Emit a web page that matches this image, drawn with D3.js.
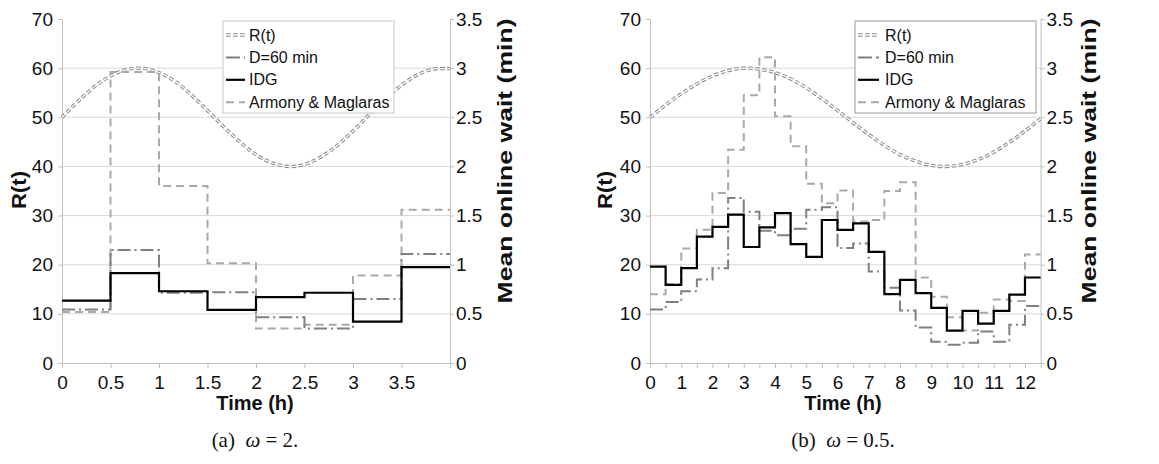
<!DOCTYPE html>
<html>
<head>
<meta charset="utf-8">
<script src="https://cdn.jsdelivr.net/npm/d3@7"></script>
<style>
  body { margin: 0; background: #fff; }
  svg { display: block; }
  text { font-family: "Liberation Sans", Arial, sans-serif; fill: #111; }
</style>
</head>
<body>
<svg id="chart" width="1159" height="464"></svg>
<script>
// ---- panel (a): omega = 2 ----
// start of each half-hour step (h); mean online wait in minutes
const stepTimesA = [0, 0.5, 1, 1.5, 2, 2.5, 3, 3.5];
const idgA    = [0.635, 0.915, 0.73, 0.54, 0.67, 0.715, 0.42, 0.975];
const d60A    = [0.545, 1.15, 0.715, 0.72, 0.465, 0.35, 0.65, 1.11];
const armonyA = [0.52, 2.96, 1.80, 1.015, 0.35, 0.39, 0.89, 1.56];
// arrival rate R(t)
const rTimesA  = [0, 0.2, 0.4, 0.6, 0.8, 1, 1.2, 1.4, 1.6, 1.8, 2, 2.2, 2.4, 2.6, 2.8, 3, 3.2, 3.4, 3.6, 3.8, 4];
const rValuesA = [50, 53.9, 57.2, 59.3, 60, 59.1, 56.8, 53.3, 49.4, 45.6, 42.4, 40.5, 40, 41.2, 43.7, 47.2, 51.2, 54.9, 57.9, 59.7, 59.9];
const xLabelsA = [0, 0.5, 1, 1.5, 2, 2.5, 3, 3.5];

// ---- panel (b): omega = 0.5 ----
const stepTimesB = [0, 0.5, 1, 1.5, 2, 2.5, 3, 3.5, 4, 4.5, 5, 5.5, 6, 6.5, 7, 7.5, 8, 8.5, 9, 9.5, 10, 10.5, 11, 11.5, 12];
const idgB    = [0.98, 0.795, 0.965, 1.285, 1.385, 1.51, 1.18, 1.38, 1.525, 1.21, 1.08, 1.455, 1.355, 1.42, 1.13,
                 0.70, 0.845, 0.71, 0.56, 0.33, 0.53, 0.40, 0.53, 0.695, 0.87];
const d60B    = [0.545, 0.62, 0.73, 0.85, 0.965, 1.68, 1.54, 1.345, 1.30, 1.365, 1.56, 1.585, 1.17, 1.215, 0.93,
                 0.765, 0.535, 0.36, 0.215, 0.185, 0.205, 0.32, 0.215, 0.39, 0.58];
const armonyB = [0.70, 0.805, 1.165, 1.355, 1.73, 2.17, 2.725, 3.11, 2.51, 2.205, 1.825, 1.625, 1.755, 1.44, 1.455,
                 1.75, 1.84, 0.87, 0.675, 0.465, 0.33, 0.51, 0.645, 0.63, 1.105];
const rTimesB  = [0, 0.5, 1, 1.5, 2, 2.5, 3, 3.5, 4, 4.5, 5, 5.5, 6, 6.5, 7, 7.5, 8, 8.5, 9, 9.5, 10, 10.5, 11, 11.5, 12, 12.5];
const rValuesB = [50, 52.5, 54.8, 56.8, 58.4, 59.5, 60, 59.8, 59.1, 57.8, 56, 53.8, 51.4, 48.9, 46.5, 44.3, 42.4, 41.1,
                  40.2, 40, 40.4, 41.4, 42.9, 44.9, 47.2, 49.7];
const xLabelsB = [0, 1, 2, 3, 4, 5, 6, 7, 8, 9, 10, 11, 12];

// shared axes
const yLeftTicks  = [0, 10, 20, 30, 40, 50, 60, 70];
const yRightTicks = [0, 0.5, 1, 1.5, 2, 2.5, 3, 3.5];
const legendLabels = ["R(t)", "D=60 min", "IDG", "Armony & Maglaras"];

const svg = d3.select("#chart");
const plotTop = 19, plotBottom = 363;

const styles = {
  d60:    { stroke: "#7f7f7f", width: 2, dash: "13,4,2,4" },
  idg:    { stroke: "#000", width: 2.2, dash: null },
  armony: { stroke: "#a9a9a9", width: 2, dash: "8,5" }
};

function drawPanel(p) {
  const g = svg.append("g");
  const x = d3.scaleLinear().domain([0, p.tEnd]).range([p.left, p.right]);
  const yL = d3.scaleLinear().domain([0, 70]).range([plotBottom, plotTop]);
  const yR = d3.scaleLinear().domain([0, 3.5]).range([plotBottom, plotTop]);

  // horizontal grid
  g.selectAll("line.grid")
    .data(yLeftTicks.filter(d => d > 0 && d < 70))
    .join("line")
    .attr("x1", p.left).attr("x2", p.right)
    .attr("y1", d => yL(d)).attr("y2", d => yL(d))
    .attr("stroke", "#d9d9d9").attr("stroke-width", 1);

  // axes
  const left = g.append("g").attr("transform", `translate(${p.left},0)`)
    .call(d3.axisLeft(yL).tickValues(yLeftTicks).tickSize(4).tickSizeOuter(0).tickPadding(5));
  const right = g.append("g").attr("transform", `translate(${p.right},0)`)
    .call(d3.axisRight(yR).tickValues(yRightTicks).tickSize(4).tickSizeOuter(0).tickPadding(2)
      .tickFormat(d3.format("")));
  const marks = d3.range(0, p.tEnd + 0.001, 0.5);
  const bottomAx = g.append("g").attr("transform", `translate(0,${plotBottom})`)
    .call(d3.axisBottom(x).tickValues(marks).tickSize(5).tickSizeOuter(0).tickPadding(8)
      .tickFormat(d => p.xLabels.includes(d) ? d3.format("")(d) : ""));
  [left, right, bottomAx].forEach(a => {
    a.select(".domain").attr("stroke", "#bfbfbf");
    a.selectAll(".tick line").attr("stroke", "#bfbfbf");
    a.selectAll(".tick text").attr("font-size", 19).attr("fill", "#111")
      .attr("font-family", '"Liberation Sans", Arial, sans-serif');
  });

  // R(t) curve, drawn as a hollow dashed line
  const rPts = p.rTimes.map((t, i) => [t, p.rValues[i]]);
  const rLine = d3.line().x(d => x(d[0])).y(d => yL(d[1])).curve(d3.curveCatmullRom);
  g.append("path").attr("d", rLine(rPts)).attr("fill", "none")
    .attr("stroke", "#8a8a8a").attr("stroke-width", 3.4).attr("stroke-dasharray", "4.5,2.5");
  g.append("path").attr("d", rLine(rPts)).attr("fill", "none")
    .attr("stroke", "#fff").attr("stroke-width", 1.3).attr("stroke-dasharray", "4.5,2.5");

  // step series on the right axis
  const step = d3.line().x(d => x(d[0])).y(d => yR(d[1])).curve(d3.curveStepAfter);
  [["armony", p.armony], ["d60", p.d60], ["idg", p.idg]].forEach(([key, vals]) => {
    const pts = p.times.map((t, i) => [t, vals[i]]).concat([[p.tEnd, vals[vals.length - 1]]]);
    const s = styles[key];
    g.append("path").attr("d", step(pts)).attr("fill", "none")
      .attr("stroke", s.stroke).attr("stroke-width", s.width)
      .attr("stroke-dasharray", s.dash);
  });

  // legend
  const lg = g.append("g");
  lg.append("rect").attr("x", p.legX).attr("y", 21).attr("width", p.legW).attr("height", 92)
    .attr("fill", "#fff").attr("stroke", p.legStroke).attr("stroke-width", 1);
  legendLabels.forEach((lab, i) => {
    const yy = 35 + i * 22.4;
    const x1 = p.legX + 3, x2 = p.legX + 3 + p.sampleW;
    if (i === 0) {
      lg.append("line").attr("x1", x1).attr("x2", x2).attr("y1", yy).attr("y2", yy)
        .attr("stroke", "#8a8a8a").attr("stroke-width", 3.4).attr("stroke-dasharray", "4.5,2.5");
      lg.append("line").attr("x1", x1).attr("x2", x2).attr("y1", yy).attr("y2", yy)
        .attr("stroke", "#fff").attr("stroke-width", 1.3).attr("stroke-dasharray", "4.5,2.5");
    } else {
      const s = styles[["", "d60", "idg", "armony"][i]];
      lg.append("line").attr("x1", x1).attr("x2", x2).attr("y1", yy).attr("y2", yy)
        .attr("stroke", s.stroke).attr("stroke-width", s.width)
        .attr("stroke-dasharray", i === 1 ? "14,4" : s.dash);
    }
    lg.append("text").attr("x", p.legX + p.textOff).attr("y", yy).attr("dy", "0.35em")
      .attr("font-size", 16).text(lab);
  });

  // axis titles
  g.append("text").attr("transform", `translate(${p.left - p.leftTitleOff},190) rotate(-90)`)
    .attr("text-anchor", "middle").attr("font-weight", "bold").attr("font-size", 21)
    .attr("textLength", 38).attr("lengthAdjust", "spacingAndGlyphs").text("R(t)");
  g.append("text").attr("transform", `translate(${p.right + p.rightTitleOff},161) rotate(-90)`)
    .attr("text-anchor", "middle").attr("font-weight", "bold").attr("font-size", 21)
    .attr("textLength", 285).attr("lengthAdjust", "spacingAndGlyphs").text("Mean online wait (min)");
  g.append("text").attr("x", p.captionX).attr("y", 410).attr("text-anchor", "middle")
    .attr("font-weight", "bold").attr("font-size", 20).text("Time (h)");

  // caption
  const cap = g.append("text").attr("x", p.captionX).attr("y", 447).attr("text-anchor", "middle")
    .attr("font-size", 21)
    .style("font-family", '"Liberation Serif", "Times New Roman", serif');
  cap.append("tspan").text(p.tag + "\u2002");
  cap.append("tspan").attr("font-style", "italic").text("\u03c9");
  cap.append("tspan").text(" = " + p.omega + ".");
}

drawPanel({
  left: 62, right: 450, tEnd: 4, times: stepTimesA,
  idg: idgA, d60: d60A, armony: armonyA, rTimes: rTimesA, rValues: rValuesA, xLabels: xLabelsA,
  legX: 223, legW: 171, legStroke: "#c8c8c8", sampleW: 19, textOff: 26,
  leftTitleOff: 36, rightTitleOff: 62,
  captionX: 255, tag: "(a)", omega: "2"
});
drawPanel({
  left: 650, right: 1040.6, tEnd: 12.5, times: stepTimesB,
  idg: idgB, d60: d60B, armony: armonyB, rTimes: rTimesB, rValues: rValuesB, xLabels: xLabelsB,
  legX: 855, legW: 181, legStroke: "#9a9a9a", sampleW: 21, textOff: 30,
  leftTitleOff: 38, rightTitleOff: 55,
  captionX: 843, tag: "(b)", omega: "0.5"
});
</script>
</body>
</html>
